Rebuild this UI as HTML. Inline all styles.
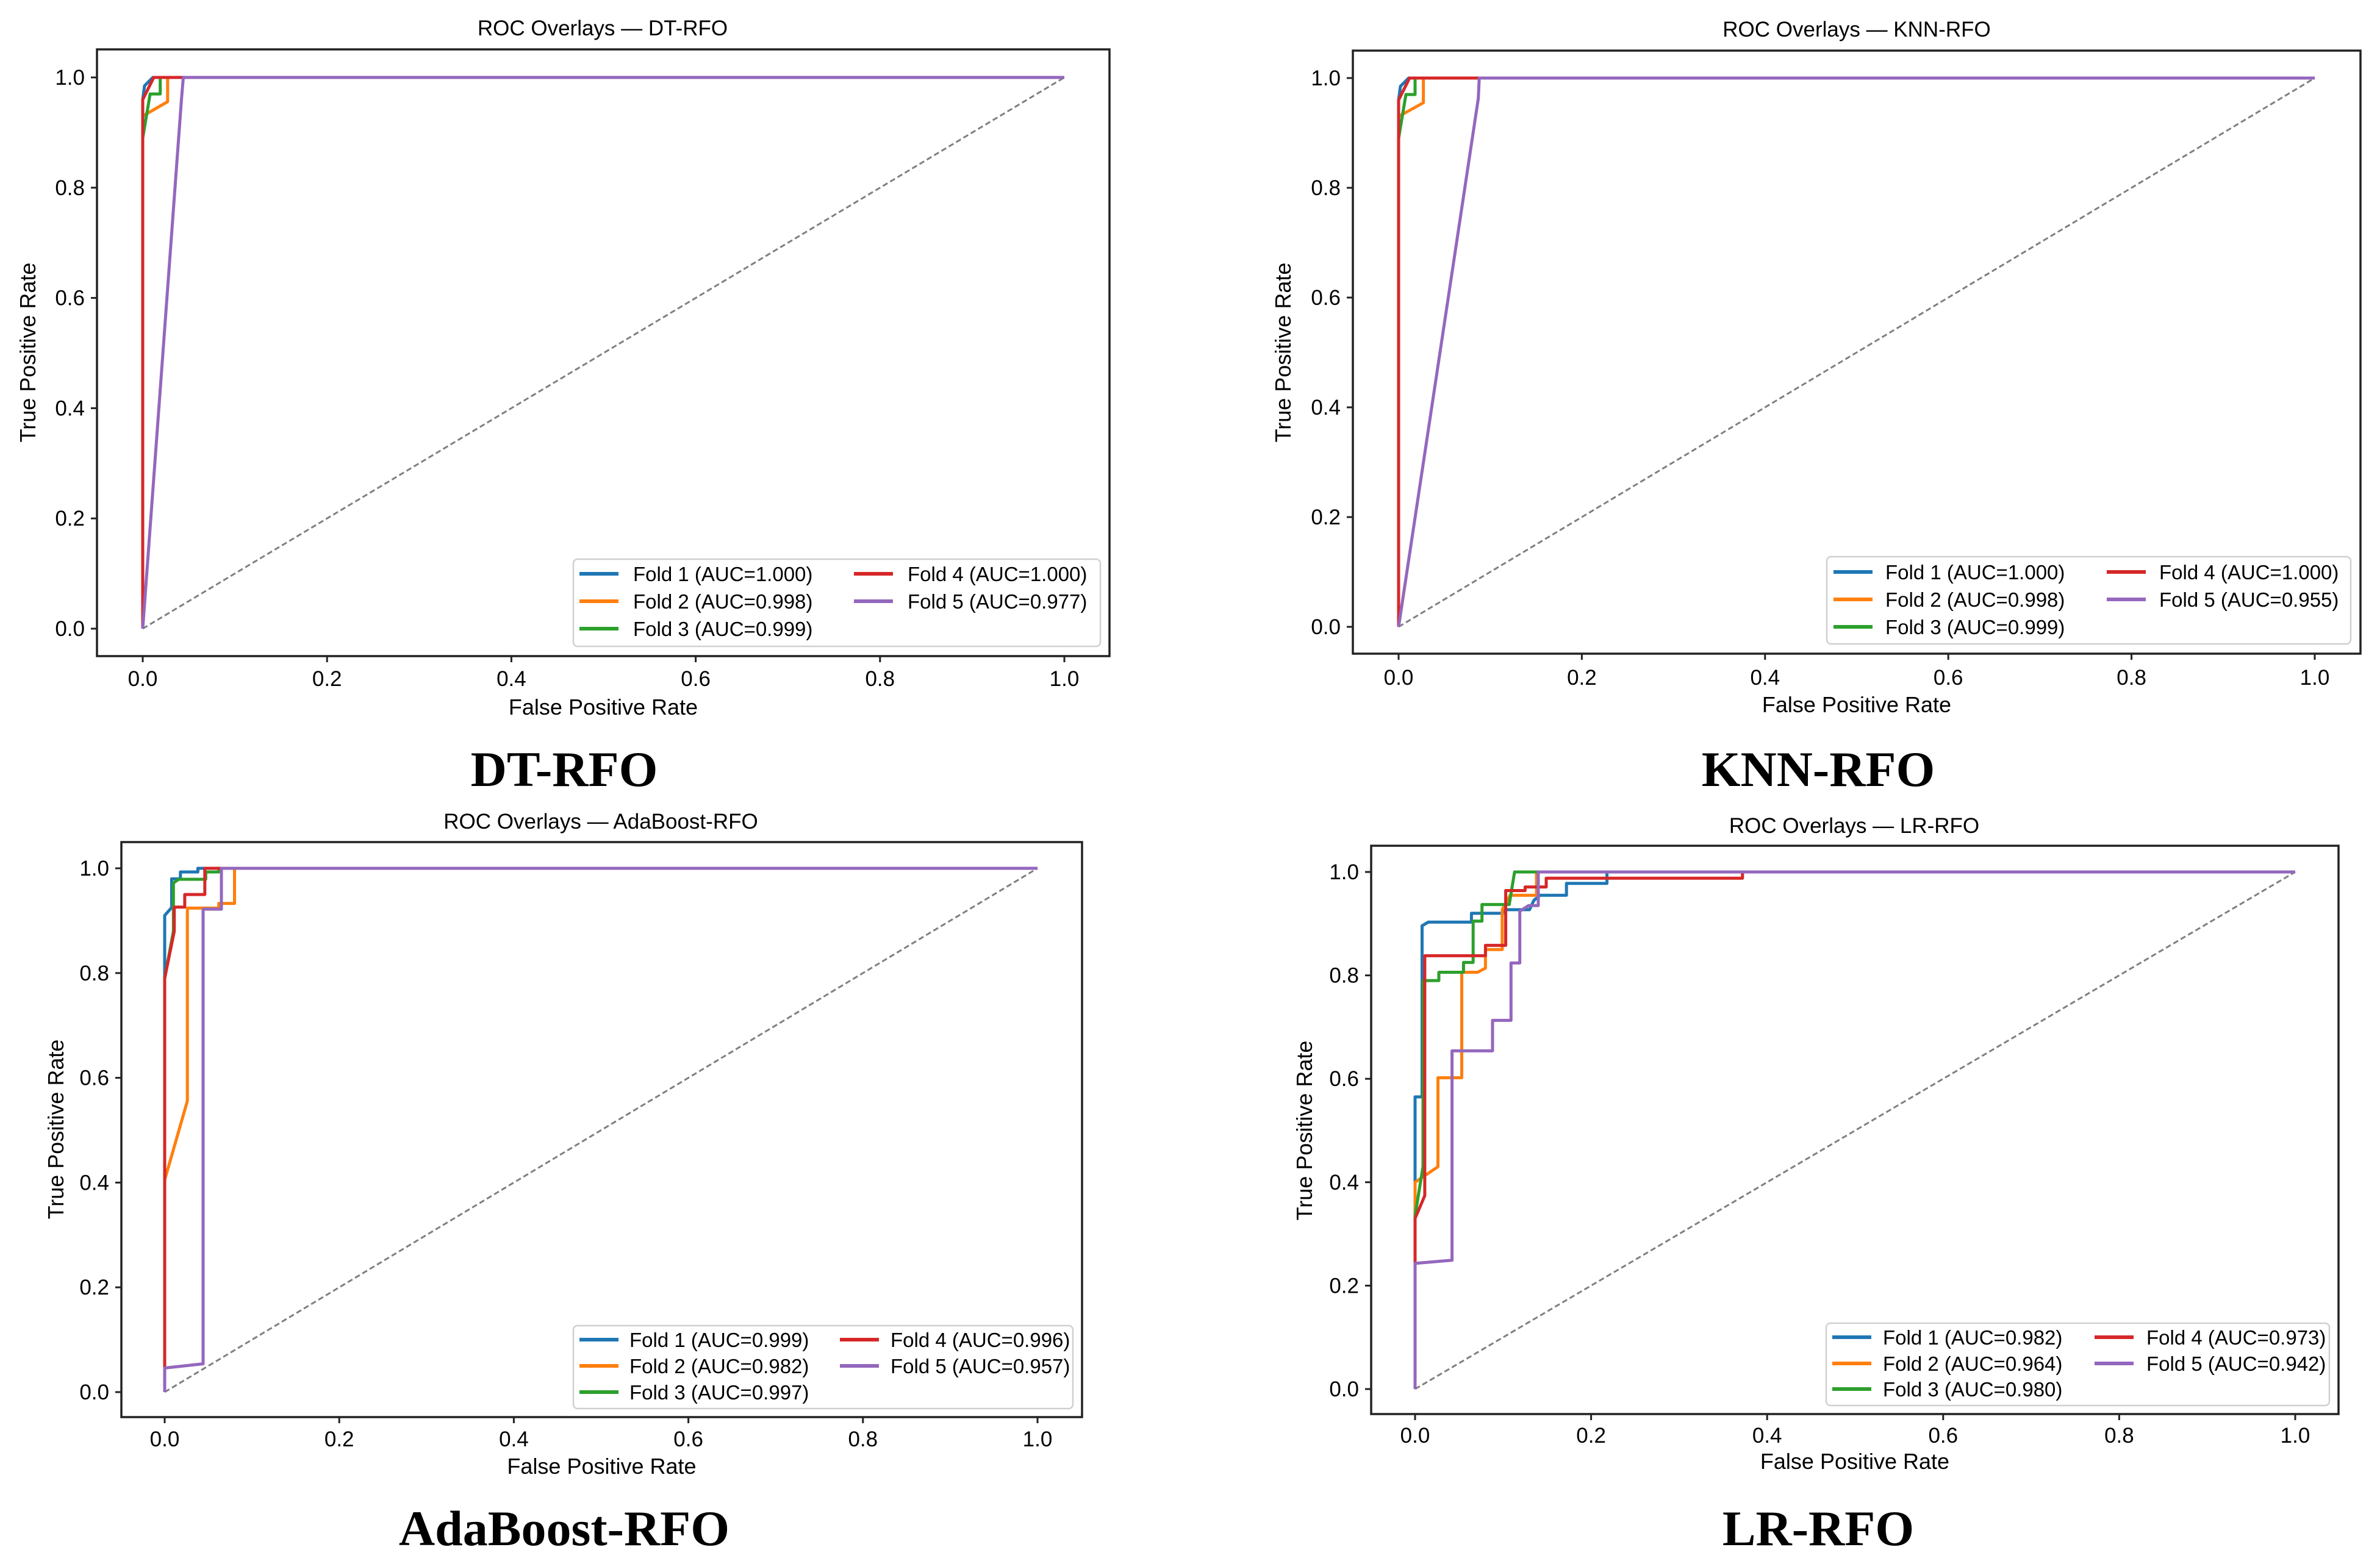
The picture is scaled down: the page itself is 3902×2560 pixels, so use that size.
<!DOCTYPE html>
<html><head><meta charset="utf-8"><style>
html,body{margin:0;padding:0;background:#fff;}
svg{display:block;}
text{font-family:"Liberation Sans",sans-serif;fill:#000;}
.cap{font-family:"Liberation Serif",serif;font-weight:bold;}
</style></head>
<body>
<svg id="fig" width="3902" height="2560" viewBox="0 0 3902 2560" xmlns="http://www.w3.org/2000/svg"></svg>
<script>
const colors = ["#1f77b4","#ff7f0e","#2ca02c","#d62728","#9467bd"];
const xTicks = [0,0.2,0.4,0.6,0.8,1.0];
const yTicks = [0,0.2,0.4,0.6,0.8,1.0];
const tickLabels = ["0.0","0.2","0.4","0.6","0.8","1.0"];

const dtFpr = [
 [0,0,0.002,0.011,1],
 [0,0,0.027,0.027,1],
 [0,0,0.008,0.019,0.019,1],
 [0,0,0.012,1],
 [0,0.042,0.044,1]];
const dtTpr = [
 [0,0.96,0.985,1,1],
 [0,0.93,0.956,1,1],
 [0,0.89,0.97,0.97,1,1],
 [0,0.96,1,1],
 [0,0.96,1,1]];
const dtAuc = ["1.000","0.998","0.999","1.000","0.977"];

const knnFpr = [
 [0,0,0.002,0.011,1],
 [0,0,0.027,0.027,1],
 [0,0,0.008,0.018,0.018,1],
 [0,0,0.012,1],
 [0,0.087,0.088,1]];
const knnTpr = [
 [0,0.96,0.985,1,1],
 [0,0.93,0.955,1,1],
 [0,0.89,0.97,0.97,1,1],
 [0,0.96,1,1],
 [0,0.963,1,1]];
const knnAuc = ["1.000","0.998","0.999","1.000","0.955"];

const adaFpr = [
 [0,0,0.008,0.008,0.018,0.018,0.038,0.038,1],
 [0,0,0.026,0.026,0.062,0.062,0.08,0.08,1],
 [0,0,0.01,0.01,0.016,0.047,0.047,0.062,0.062,1],
 [0,0,0.011,0.011,0.023,0.023,0.046,0.046,1],
 [0,0,0.044,0.044,0.065,0.065,1]];
const adaTpr = [
 [0,0.91,0.925,0.98,0.98,0.993,0.993,1,1],
 [0,0.405,0.556,0.924,0.924,0.933,0.933,1,1],
 [0,0.79,0.88,0.972,0.979,0.979,0.993,0.993,1,1],
 [0,0.79,0.88,0.926,0.926,0.95,0.95,1,1],
 [0,0.046,0.054,0.922,0.922,1,1]];
const adaAuc = ["0.999","0.982","0.997","0.996","0.957"];

const lrFpr = [
 [0,0,0,0.008,0.008,0.015,0.064,0.064,0.1,0.1,0.13,0.135,0.142,0.172,0.172,0.218,0.218,1],
 [0,0,0.026,0.026,0.053,0.053,0.071,0.08,0.08,0.099,0.099,0.108,0.138,0.138,1],
 [0,0,0.009,0.009,0.027,0.027,0.055,0.055,0.066,0.066,0.076,0.076,0.107,0.113,0.14,1],
 [0,0,0.011,0.011,0.08,0.08,0.103,0.103,0.125,0.125,0.149,0.149,0.372,0.372,1],
 [0,0,0.042,0.042,0.088,0.088,0.109,0.109,0.119,0.119,0.129,0.14,0.14,1]];
const lrTpr = [
 [0,0.4,0.565,0.565,0.896,0.903,0.903,0.92,0.92,0.927,0.927,0.945,0.955,0.955,0.978,0.978,1,1],
 [0,0.4,0.43,0.602,0.602,0.806,0.806,0.814,0.85,0.85,0.927,0.955,0.955,1,1],
 [0,0.335,0.43,0.79,0.79,0.806,0.806,0.825,0.825,0.905,0.905,0.937,0.937,1,1,1],
 [0,0.33,0.374,0.838,0.838,0.858,0.858,0.964,0.964,0.971,0.971,0.988,0.988,1,1],
 [0,0.243,0.249,0.654,0.654,0.713,0.713,0.824,0.824,0.924,0.935,0.935,1,1]];
const lrAuc = ["0.982","0.964","0.980","0.973","0.942"];

const panels = [
 {key:"dt",title:"ROC Overlays — DT-RFO",caption:"DT-RFO",fpr:dtFpr,tpr:dtTpr,auc:dtAuc,
  box:[159,81,1819,1076],x0:234,x1:1745,y0:1031,y1:127,tcx:988,ty:58,
  leg:[940,917,1804,1060],rows:[941,986,1031],h1:950,t1:1038,h2:1400,t2:1488,
  tly:1125,xly:1172,ylx:58,yly:578,capx:925,capy:1289},
 {key:"knn",title:"ROC Overlays — KNN-RFO",caption:"KNN-RFO",fpr:knnFpr,tpr:knnTpr,auc:knnAuc,
  box:[2218,83,3870,1072],x0:2293,x1:3795,y0:1028,y1:128,tcx:3044,ty:60,
  leg:[2995,913,3854,1056],rows:[938,983,1028],h1:3006,t1:3091,h2:3454,t2:3540,
  tly:1123,xly:1168,ylx:2116,yly:578,capx:2981,capy:1289},
 {key:"adaboost",title:"ROC Overlays — AdaBoost-RFO",caption:"AdaBoost-RFO",fpr:adaFpr,tpr:adaTpr,auc:adaAuc,
  box:[199,1381,1774,2324],x0:270,x1:1701,y0:2283,y1:1424,tcx:985,ty:1359,
  leg:[940,2174,1759,2310],rows:[2197,2240,2283],h1:950,t1:1032,h2:1377,t2:1460,
  tly:2372,xly:2417,ylx:104,yly:1852,capx:925,capy:2534},
 {key:"lr",title:"ROC Overlays — LR-RFO",caption:"LR-RFO",fpr:lrFpr,tpr:lrTpr,auc:lrAuc,
  box:[2248,1387,3834,2319],x0:2320,x1:3763,y0:2278,y1:1430,tcx:3040,ty:1366,
  leg:[2994,2170,3819,2305],rows:[2193,2236,2278],h1:3004,t1:3087,h2:3434,t2:3519,
  tly:2366,xly:2409,ylx:2151,yly:1854,capx:2981,capy:2534}
];

const NS = "http://www.w3.org/2000/svg";
const svg = document.getElementById("fig");
function mk(tag, attrs, parent, txt){
  const e = document.createElementNS(NS, tag);
  for (const k in attrs) e.setAttribute(k, attrs[k]);
  if (txt !== undefined) e.textContent = txt;
  parent.appendChild(e);
  return e;
}

panels.forEach(p => {
  const g = mk("g", {}, svg);
  
  
  const sx = v => p.x0 + v * (p.x1 - p.x0);
  const sy = v => p.y0 + v * (p.y1 - p.y0);
  const [L,T,R,B] = p.box;

  const title = mk("text", {x:p.tcx, y:p.ty, "text-anchor":"middle", "font-size":35}, g, p.title);
  
  

  const diag = mk("line", {x1:sx(0), y1:sy(0), x2:sx(1), y2:sy(1), stroke:"#808080", "stroke-width":3, "stroke-dasharray":"9,5"}, g);
  
  

  p.fpr.forEach((xs, i) => {
    const ys = p.tpr[i];
    const pts = xs.map((x, j) => sx(x).toFixed(1) + "," + sy(ys[j]).toFixed(1)).join(" ");
    const pl = mk("polyline", {points:pts, fill:"none", stroke:colors[i], "stroke-width":5, "stroke-linejoin":"round"}, g);
    
    
  });

  const fr = mk("rect", {x:L, y:T, width:R-L, height:B-T, fill:"none", stroke:"#222", "stroke-width":3.5}, g);
  
  

  xTicks.forEach((v, i) => {
    const t = mk("line", {x1:sx(v), y1:B, x2:sx(v), y2:B+10, stroke:"#222", "stroke-width":3}, g);
    
    
    const l = mk("text", {x:sx(v), y:p.tly, "text-anchor":"middle", "font-size":35}, g, tickLabels[i]);
    
    
  });
  yTicks.forEach((v, i) => {
    const t = mk("line", {x1:L-10, y1:sy(v), x2:L, y2:sy(v), stroke:"#222", "stroke-width":3}, g);
    
    
    const l = mk("text", {x:L-20, y:sy(v)+12, "text-anchor":"end", "font-size":35}, g, tickLabels[i]);
    
    
  });

  const xl = mk("text", {x:(L+R)/2, y:p.xly, "text-anchor":"middle", "font-size":36}, g, "False Positive Rate");
  
  
  const yl = mk("text", {x:p.ylx, y:p.yly, "text-anchor":"middle", "font-size":36, transform:"rotate(-90 "+p.ylx+" "+p.yly+")"}, g, "True Positive Rate");
  
  

  const [lx1,ly1,lx2,ly2] = p.leg;
  const lg = mk("rect", {x:lx1, y:ly1, width:lx2-lx1, height:ly2-ly1, rx:7, fill:"#fff", "fill-opacity":0.85, stroke:"#d0d0d0", "stroke-width":2.5}, g);
  
  
  p.auc.forEach((a, i) => {
    const col = i < 3 ? 0 : 1;
    const row = i < 3 ? i : i - 3;
    const hx = col ? p.h2 : p.h1;
    const tx = col ? p.t2 : p.t1;
    const yy = p.rows[row];
    const h = mk("line", {x1:hx, y1:yy, x2:hx+64, y2:yy, stroke:colors[i], "stroke-width":6}, g);
    
    
    const t = mk("text", {x:tx, y:yy+12, "font-size":33}, g, "Fold " + (i+1) + " (AUC=" + a + ")");
    
    
  });

  const cap = mk("text", {x:p.capx, y:p.capy, "text-anchor":"middle", "font-size":82, "class":"cap"}, g, p.caption);
  
  
});
</script>
</body></html>
